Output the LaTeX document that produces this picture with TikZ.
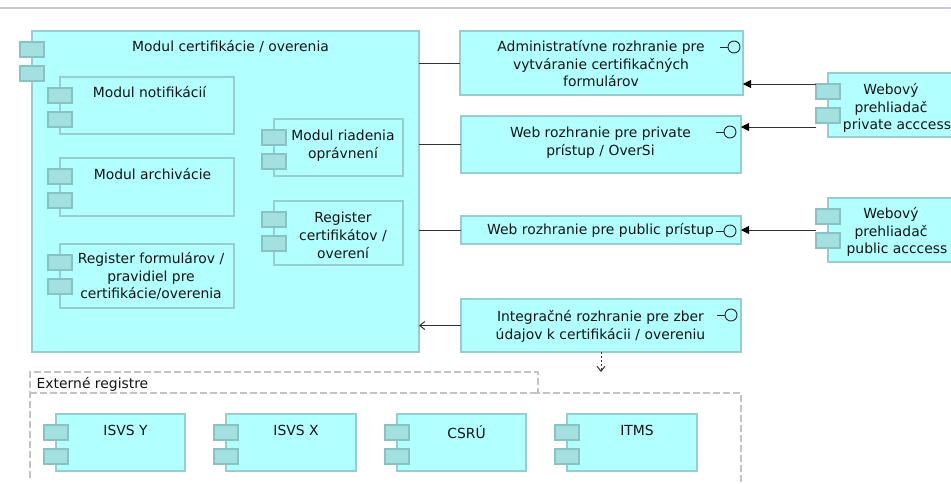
\documentclass[tikz,border=0pt]{standalone}
\usepackage{fontspec}
\setmainfont{DejaVu Sans}
\usetikzlibrary{arrows.meta,calc}
\definecolor{compfill}{RGB}{178,255,255}
\definecolor{compline}{RGB}{150,205,205}
\definecolor{portfill}{RGB}{164,224,224}
\definecolor{portline}{RGB}{135,195,195}
\definecolor{topline}{RGB}{197,200,216}
\definecolor{groupline}{RGB}{195,195,195}
\definecolor{connline}{RGB}{50,50,50}
\tikzset{
  compbox/.style  = {rectangle, fill=compfill, draw=compline, line width=1.1pt,
                     inner sep=0pt, outer sep=0pt, anchor=north west},
  portbox/.style  = {rectangle, fill=portfill, draw=portline, line width=1.1pt,
                     inner sep=0pt, outer sep=0pt, minimum width=24pt, minimum height=15pt},
  boxtext/.style  = {inner sep=0pt, anchor=north, align=center, text=black!92,
                     font=\fontsize{13.9}{17.8}\selectfont},
  lollipop/.style = {circle, draw=black!85, line width=0.9pt, fill=none,
                     minimum size=12pt, inner sep=0pt, outer sep=0pt},
  conn/.style     = {draw=connline, line width=1pt},
  connfill/.style = {conn, -{Triangle[length=8pt,width=8pt,color=black]}},
  connopen/.style = {conn, -{Straight Barb[length=5pt,width=8pt]}},
  conndash/.style = {conn, dash pattern=on 2pt off 2pt, -{Straight Barb[length=5pt,width=8pt]}},
  groupline/.style = {draw=groupline, line width=1.1pt, dash pattern=on 7pt off 3pt}
}

\begin{document}
\begin{tikzpicture}[x=1pt,y=-1pt]
\clip (0,0) rectangle (951,483);
\fill[white] (0,0) rectangle (951,483);

% line at the top of the page
\draw[topline, line width=2pt] (0,8) -- (951,8);

% -------------------- Group of external registers --------------------
\draw[groupline] (30,478) -- (30,372) -- (538,372) -- (538,393) -- (741,393) -- (741,483);
\draw[groupline] (30,393) -- (538,393);
\node[boxtext, anchor=west] (extreg) at (36.5,384) {Externé registre};

% -------------------- Components --------------------

% name / left, top, right, bottom / text shift, text drop / text
\foreach \nm/\xa/\ya/\xb/\yb/\dx/\dy/\txt in {
    certmod/32/31/419/352/5/9/{Modul certifikácie / overenia},
    notif/60/77/234/134/2.5/9/{Modul notifikácií},
    archiv/60/158/234/216/5.5/10/{Modul archivácie},
    regform/60/244/234/308/4/8/{Register formulárov /\\ pravidiel pre\\ certifikácie/overenia},
    rights/274/119/403/176/4.5/11/{Modul riadenia\\ oprávnení},
    regcert/274/201/403/265/4.5/11/{Register\\ certifikátov /\\ overení},
    webpriv/828/73/960/137/-3/10/{Webový\\ prehliadač\\ \hspace*{12pt}private acccess},
    webpub/828/198/960/262/-3/9/{Webový\\ prehliadač\\ \hspace*{12pt}public acccess},
    isvsy/56/414/185/471/5/11/{ISVS Y},
    isvsx/226/414/356/471/5/11/{ISVS X},
    csru/397/414/526/471/5/11/{CSRÚ},
    itms/567/414/697/471/5/11/{ITMS}}{
  \node[compbox, minimum width={(\xb-\xa)*1pt}, minimum height={(\yb-\ya)*1pt}] (\nm) at (\xa,\ya) {};
  \node[portbox] (\nm-pa) at ($(\nm.north west)+(0,18.5)$) {};
  \node[portbox] (\nm-pb) at ($(\nm.north west)+(0,42.5)$) {};
  \node[boxtext] (\nm-txt) at ($(\nm.north)+(\dx,\dy)$) {\txt};
}

% -------------------- Interfaces --------------------

% name / left, top, right, bottom / text drop / circle from right, from top / text
\foreach \nm/\xa/\ya/\xb/\yb/\dy/\cx/\cy/\txt in {
    admin/460/31/743/95/9/9/16/{Administratívne rozhranie pre\\ vytváranie certifikačných\\ formulárov},
    private/461/116/741/173/10.5/11/16/{Web rozhranie pre private\\ prístup / OverSi},
    public/461/216/741/244/7/11/15/{Web rozhranie pre public prístup},
    integ/461/299/741/352/11/10/16/{Integračné rozhranie pre zber\\ údajov k certifikácii / overeniu}}{
  \node[compbox, minimum width={(\xb-\xa)*1pt}, minimum height={(\yb-\ya)*1pt}] (\nm) at (\xa,\ya) {};
  \node[boxtext] (\nm-txt) at ($(\nm.north)+(-0.5,\dy)$) {\txt};
  \node[lollipop] (\nm-lol) at ($(\nm.north east)+(-\cx,\cy)$) {};
  \draw[draw=black!85, line width=0.9pt] (\nm-lol.west) -- ++(-8,0);
}

% -------------------- Connections --------------------

\coordinate (webA) at (816,84);
\coordinate (webB) at (816,127);
\coordinate (webC) at (816,230);

\draw[conn] (admin.west) -- (admin.west -| certmod.east);
\draw[conn] (private.west) -- (private.west -| certmod.east);
\draw[conn] (public.west) -- (public.west -| certmod.east);
\draw[connopen] (integ.west) -- (integ.west -| certmod.east);

\draw[connfill] (webA) -- (admin.east |- webA);
\draw[connfill] (webB) -- (private.east |- webB);
\draw[connfill] (webC) -- (public.east |- webC);

\draw[conndash] (integ.south) -- ++(0,20);

\end{tikzpicture}
\end{document}
